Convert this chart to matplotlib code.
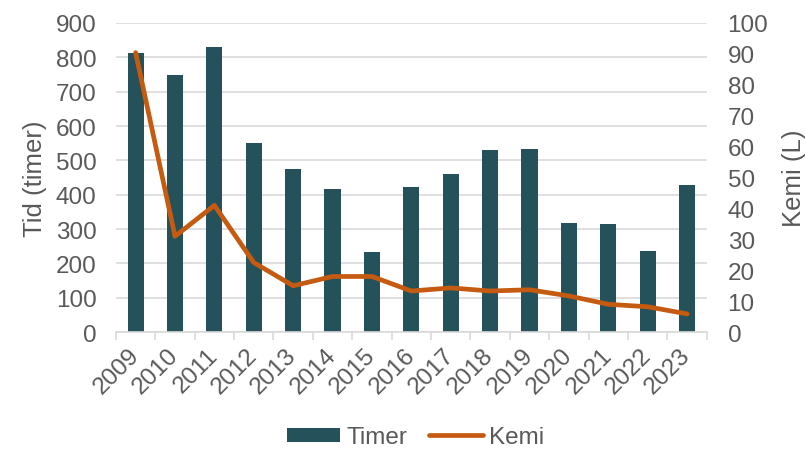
import matplotlib.pyplot as plt
import numpy as np

plt.rcParams['font.family'] = ['Liberation Sans', 'DejaVu Sans']

years = ['2009', '2010', '2011', '2012', '2013', '2014', '2015', '2016',
         '2017', '2018', '2019', '2020', '2021', '2022', '2023']
timer = [813, 748, 831, 551, 474, 417, 233, 423, 460, 529, 532, 317, 315, 235, 427]
kemi = [90.4, 31, 41, 22.5, 15, 18, 18, 13.3, 14.3, 13.3, 13.7, 11.7, 9, 8.2, 5.9]

gray = '#595959'
grid_c = '#D9D9D9'
bar_c = '#25525A'
line_c = '#C55A11'

fig = plt.figure(figsize=(8.05, 4.52), dpi=100)
ax = fig.add_axes([0.144, 0.263, 0.734, 0.684])
x = np.arange(len(years))

ax.bar(x, timer, width=0.41, color=bar_c, zorder=2, label='Timer')
ax.set_ylim(0, 900)
ax.set_yticks(range(0, 901, 100))
ax.set_xlim(-0.5, len(years) - 0.5)
ax.grid(axis='y', color=grid_c, lw=1.2, zorder=0)
ax.set_axisbelow(True)
for s in ['top', 'left', 'right']:
    ax.spines[s].set_visible(False)
ax.spines['bottom'].set_color(grid_c)
ax.spines['bottom'].set_linewidth(1.2)

ax.set_xticks(x)
ax.set_xticklabels(years, rotation=45, ha='right', va='center', rotation_mode='anchor')
ax.set_xticks(np.arange(-0.5, len(years)), minor=True)
ax.tick_params(axis='x', which='major', length=0, pad=14, labelsize=17.5, labelcolor=gray)
ax.tick_params(axis='x', which='minor', length=6, color=grid_c, width=1.2)
ax.tick_params(axis='y', length=0, pad=14, labelsize=17.5, labelcolor=gray)
ax.set_ylabel('Tid (timer)', fontsize=18.5, color=gray, labelpad=6)

ax2 = ax.twinx()
ax2.plot(x, kemi, color=line_c, lw=3.4, solid_capstyle='round', solid_joinstyle='round',
         label='Kemi')
ax2.set_ylim(0, 100)
ax2.set_yticks(range(0, 101, 10))
for s in ax2.spines.values():
    s.set_visible(False)
ax2.tick_params(axis='y', length=0, pad=15, labelsize=17.5, labelcolor=gray)
ax2.set_ylabel('Kemi (L)', fontsize=18.5, color=gray, labelpad=10)

h1, l1 = ax.get_legend_handles_labels()
h2, l2 = ax2.get_legend_handles_labels()
fig.legend(h1 + h2, l1 + l2, loc='center', bbox_to_anchor=(0.516, 0.03),
           ncol=2, frameon=False, fontsize=17.5, labelcolor=gray,
           handlelength=2.2, handleheight=0.55, handletextpad=0.25,
           columnspacing=0.9, borderpad=0)

fig.savefig('out.png', dpi=100)
